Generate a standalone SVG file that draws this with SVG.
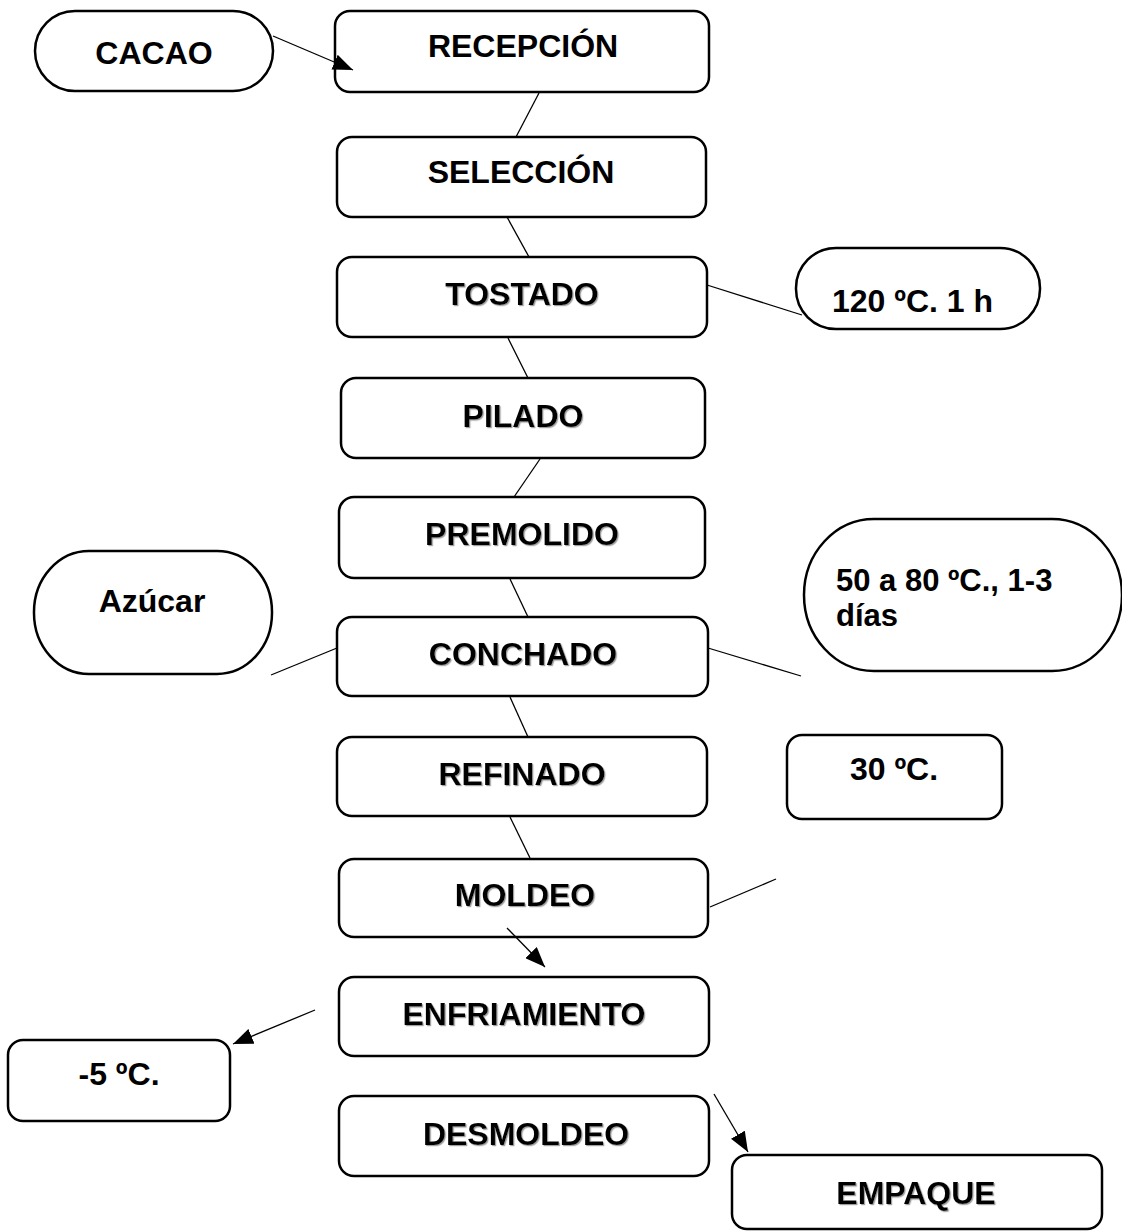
<svg xmlns="http://www.w3.org/2000/svg" width="1122" height="1231" viewBox="0 0 1122 1231">
<style>
.b{fill:#fff;stroke:#000;stroke-width:2.5}
.t{font-family:"Liberation Sans",Arial,sans-serif;font-weight:bold;font-size:32px;fill:#000;text-anchor:middle}
.ts{font-family:"Liberation Sans",Arial,sans-serif;font-weight:bold;font-size:32px;fill:#000}
.tm{font-family:"Liberation Sans",Arial,sans-serif;font-weight:bold;font-size:31px;fill:#000}
.sh{filter:url(#shadow)}
.c{stroke:#000;stroke-width:1.3;fill:none}
</style>
<defs>
<marker id="ah" viewBox="0 0 20 16" refX="20" refY="8" markerWidth="20" markerHeight="16" markerUnits="userSpaceOnUse" orient="auto">
<path d="M0,0 L20,8 L0,16 z" fill="#000"/>
</marker>
<filter id="shadow" x="-10%" y="-30%" width="120%" height="160%">
<feDropShadow dx="1.2" dy="1.2" stdDeviation="0.7" flood-color="#888" flood-opacity="0.8"/>
</filter>
</defs>
<rect width="1122" height="1231" fill="#fff"/>
<g id="cacao"><rect class="b" x="35" y="11" width="238" height="80" rx="40" ry="40"/><text class="t" x="154" y="64">CACAO</text></g>
<g id="recepcion"><rect class="b" x="335" y="11" width="374" height="81" rx="15"/><text class="t" x="523" y="57">RECEPCIÓN</text></g>
<g id="seleccion"><rect class="b" x="337" y="137" width="369" height="80" rx="15"/><text class="t" x="521" y="183">SELECCIÓN</text></g>
<g id="tostado"><rect class="b" x="337" y="257" width="370" height="80" rx="15"/><text class="t sh" x="522" y="305">TOSTADO</text></g>
<g id="temp-tostado"><rect class="b" x="796" y="248" width="244" height="81" rx="40" ry="40"/><text class="ts" x="832" y="312">120 ºC. 1 h</text></g>
<g id="pilado"><rect class="b" x="341" y="378" width="364" height="80" rx="15"/><text class="t sh" x="523" y="427">PILADO</text></g>
<g id="premolido"><rect class="b" x="339" y="497" width="366" height="81" rx="15"/><text class="t sh" x="522" y="545">PREMOLIDO</text></g>
<g id="azucar"><rect class="b" x="34" y="551" width="238" height="123" rx="55" ry="61"/><text class="t" x="152" y="612">Azúcar</text></g>
<g id="conchado"><rect class="b" x="337" y="617" width="371" height="79" rx="15"/><text class="t sh" x="523" y="665">CONCHADO</text></g>
<g id="temp-conchado"><rect class="b" x="804" y="519" width="318" height="152" rx="70" ry="76"/><text class="tm" x="836" y="591">50 a 80 ºC., 1-3</text><text class="tm" x="836" y="626">días</text></g>
<g id="refinado"><rect class="b" x="337" y="737" width="370" height="79" rx="15"/><text class="t sh" x="522" y="785">REFINADO</text></g>
<g id="temp-refinado"><rect class="b" x="787" y="735" width="215" height="84" rx="15"/><text class="t" x="894" y="780">30 ºC.</text></g>
<g id="moldeo"><rect class="b" x="339" y="859" width="369" height="78" rx="15"/><text class="t sh" x="525" y="906">MOLDEO</text></g>
<g id="enfriamiento"><rect class="b" x="339" y="977" width="370" height="79" rx="15"/><text class="t sh" x="524" y="1025">ENFRIAMIENTO</text></g>
<g id="temp-enfriamiento"><rect class="b" x="8" y="1040" width="222" height="81" rx="15"/><text class="t" x="119" y="1085">-5 ºC.</text></g>
<g id="desmoldeo"><rect class="b" x="339" y="1096" width="370" height="80" rx="15"/><text class="t sh" x="526" y="1145">DESMOLDEO</text></g>
<g id="empaque"><rect class="b" x="732" y="1155" width="370" height="74" rx="15"/><text class="t sh" x="916" y="1204">EMPAQUE</text></g>
<g id="connectors">
<line class="c" x1="273" y1="36" x2="353" y2="70" marker-end="url(#ah)"/>
<line class="c" x1="539" y1="93" x2="516" y2="137"/>
<line class="c" x1="507" y1="217" x2="529" y2="257"/>
<line class="c" x1="707" y1="285" x2="802" y2="315"/>
<line class="c" x1="508" y1="338" x2="528" y2="378"/>
<line class="c" x1="540" y1="459" x2="514" y2="497"/>
<line class="c" x1="510" y1="579" x2="528" y2="617"/>
<line class="c" x1="337" y1="648" x2="271" y2="675"/>
<line class="c" x1="708" y1="648" x2="801" y2="676"/>
<line class="c" x1="510" y1="697" x2="528" y2="737"/>
<line class="c" x1="510" y1="817" x2="530" y2="858"/>
<line class="c" x1="710" y1="907" x2="776" y2="879"/>
<line class="c" x1="507" y1="928" x2="545" y2="967" marker-end="url(#ah)"/>
<line class="c" x1="315" y1="1010" x2="233" y2="1044" marker-end="url(#ah)"/>
<line class="c" x1="714" y1="1094" x2="748" y2="1152" marker-end="url(#ah)"/>
</g>
</svg>
